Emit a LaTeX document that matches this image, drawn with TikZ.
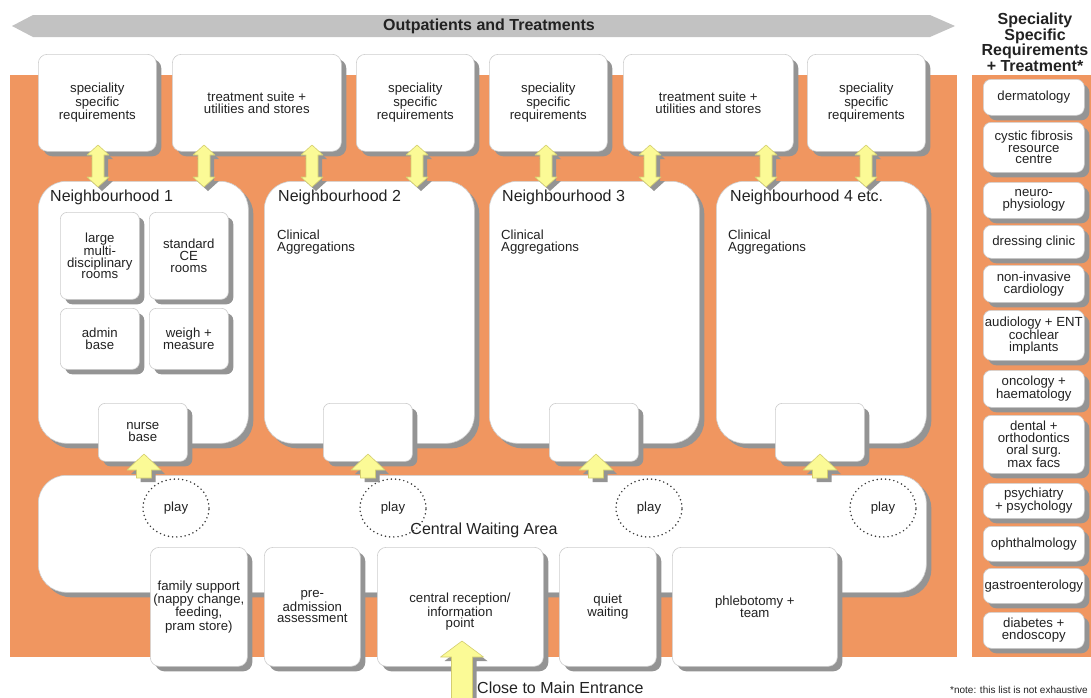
\documentclass[tikz,border=0pt]{standalone}
\usepackage{fontspec}
\setmainfont{Liberation Sans}
\usetikzlibrary{shadows,shapes.geometric}

\definecolor{bgorange}{RGB}{240,150,96}
\definecolor{ylw}{RGB}{251,250,150}
\definecolor{ylwline}{RGB}{212,206,112}
\definecolor{shadowgray}{RGB}{148,148,148}
\definecolor{bannergray}{RGB}{194,194,194}
\definecolor{boxline}{RGB}{205,205,205}
\definecolor{ink}{RGB}{34,34,34}

\tikzset{
  room/.style={draw=boxline, line width=0.6pt, fill=white, rounded corners=9pt,
    drop shadow={shadow xshift=5pt, shadow yshift=-5pt, fill=shadowgray, opacity=1},
    align=center, text=ink, font=\fontsize{13.2}{11.8}\selectfont,
    inner sep=0pt, anchor=north west},
  zone/.style={room, rounded corners=28pt},
  listroom/.style={room, rounded corners=8pt, minimum width=101pt},
  title/.style={text=ink, font=\fontsize{16}{18}\selectfont, inner sep=0pt, anchor=west},
  note/.style={text=ink, font=\fontsize{13.2}{11.8}\selectfont, inner sep=0pt, align=left, anchor=west},
  playring/.style={ellipse, draw=ink!90, line width=1.7pt, line cap=round,
    dash pattern=on 0pt off 4.2pt, minimum width=66pt, minimum height=58pt,
    inner sep=0pt, text=ink, font=\fontsize{13.2}{14}\selectfont},
  arrowbody/.style={fill=ylw, draw=ylwline, line width=0.6pt, line join=round},
  arrowshade/.style={fill=shadowgray},
}

% vertical double-headed link: centre x, upper tip y, lower tip y
\newcommand{\DblArrow}[3]{%
  \fill[arrowshade, xshift=4pt, yshift=-4pt]
    (#1,#2) -- (#1+11,#2+10) -- (#1+6,#2+10) -- (#1+6,#3-10) -- (#1+11,#3-10)
    -- (#1,#3) -- (#1-11,#3-10) -- (#1-6,#3-10) -- (#1-6,#2+10) -- (#1-11,#2+10) -- cycle;
  \filldraw[arrowbody]
    (#1,#2) -- (#1+11,#2+10) -- (#1+6,#2+10) -- (#1+6,#3-10) -- (#1+11,#3-10)
    -- (#1,#3) -- (#1-11,#3-10) -- (#1-6,#3-10) -- (#1-6,#2+10) -- (#1-11,#2+10) -- cycle;
}
% upward block arrow: x, tip y, head base y, tail y, half head width, half shaft width
\newcommand{\UpArrow}[6]{%
  \fill[arrowshade, xshift=4pt, yshift=-4pt]
    (#1,#2) -- (#1+#5,#3) -- (#1+#6,#3) -- (#1+#6,#4) -- (#1-#6,#4) -- (#1-#6,#3) -- (#1-#5,#3) -- cycle;
  \filldraw[arrowbody]
    (#1,#2) -- (#1+#5,#3) -- (#1+#6,#3) -- (#1+#6,#4) -- (#1-#6,#4) -- (#1-#6,#3) -- (#1-#5,#3) -- cycle;
}

\begin{document}
\begin{tikzpicture}[x=1pt, y=-1pt]
\useasboundingbox (0,0) rectangle (1091,697);
\clip (0,0) rectangle (1091,697);

% backgrounds
\fill[bgorange] (10,75) rectangle (957,657);
\fill[bgorange] (972,75) rectangle (1091,657);

% banner
\fill[bannergray] (12,26) -- (33,15) -- (930,15) -- (955,26) -- (930,37) -- (33,37) -- cycle;
\node[font=\bfseries\fontsize{16}{18}\selectfont, text=ink, inner sep=0pt] (banner) at (489,26) {Outpatients and Treatments};

% top row of shared rooms
\node[room, minimum width=118pt, minimum height=97pt] (t1) at (38,54) {speciality\\specific\\requirements};
\node[room, minimum width=169pt, minimum height=97pt] (t2) at (172,54) {treatment suite +\\utilities and stores};
\node[room, minimum width=118pt, minimum height=97pt] (t3) at (356,54) {speciality\\specific\\requirements};
\node[room, minimum width=118pt, minimum height=97pt] (t4) at (489,54) {speciality\\specific\\requirements};
\node[room, minimum width=170pt, minimum height=97pt] (t5) at (623,54) {treatment suite +\\utilities and stores};
\node[room, minimum width=118pt, minimum height=97pt] (t6) at (807,54) {speciality\\specific\\requirements};

% neighbourhoods
\node[zone, minimum width=210pt, minimum height=262pt] (n1) at (38,181) {};
\node[zone, minimum width=210pt, minimum height=262pt] (n2) at (264,181) {};
\node[zone, minimum width=210pt, minimum height=262pt] (n3) at (489,181) {};
\node[zone, minimum width=210pt, minimum height=262pt] (n4) at (716,181) {};

\node[title] (n1t) at (50,197) {Neighbourhood 1};
\node[title] (n2t) at (278,197) {Neighbourhood 2};
\node[title] (n3t) at (502,197) {Neighbourhood 3};
\node[title] (n4t) at (730,197) {Neighbourhood 4 etc.};

\node[note] (c2) at (277,242) {Clinical\\Aggregations};
\node[note] (c3) at (501,242) {Clinical\\Aggregations};
\node[note] (c4) at (728,242) {Clinical\\Aggregations};

% rooms of neighbourhood 1
\node[room, rounded corners=7pt, minimum width=79pt, minimum height=87pt] (r1) at (60,212) {large\\multi-\\disciplinary\\rooms};
\node[room, rounded corners=7pt, minimum width=79pt, minimum height=87pt] (r2) at (149,212) {standard\\CE\\rooms};
\node[room, rounded corners=7pt, minimum width=79pt, minimum height=61pt] (r3) at (60,308) {admin\\base};
\node[room, rounded corners=7pt, minimum width=79pt, minimum height=61pt] (r4) at (149,308) {weigh +\\measure};

% nurse bases
\node[room, rounded corners=7pt, minimum width=89pt, minimum height=58pt] (b1) at (98,403) {nurse\\base};
\node[room, rounded corners=7pt, minimum width=89pt, minimum height=58pt] (b2) at (323,403) {};
\node[room, rounded corners=7pt, minimum width=89pt, minimum height=58pt] (b3) at (549,403) {};
\node[room, rounded corners=7pt, minimum width=89pt, minimum height=58pt] (b4) at (775,403) {};

% central waiting area
\node[zone, minimum width=888pt, minimum height=117pt] (wait) at (38,475) {};
\node[title, anchor=center] (waitt) at (484,530) {Central Waiting Area};

\node[playring] (p1) at (176,508) {play};
\node[playring] (p2) at (393,508) {play};
\node[playring] (p3) at (649,508) {play};
\node[playring] (p4) at (883,508) {play};

% rooms off the waiting area
\node[room, minimum width=97pt, minimum height=119pt] (f1) at (150,547) {family support\\(nappy change,\\feeding,\\pram store)};
\node[room, minimum width=96pt, minimum height=119pt] (f2) at (264,547) {pre-\\admission\\assessment};
\node[room, minimum width=166pt, minimum height=119pt] (f3) at (377,547) {};
\node[note, align=center, anchor=center] (f3t) at (460,612) {central reception/\\information\\point};
\node[room, minimum width=97pt, minimum height=119pt] (f4) at (559,547) {quiet\\waiting};
\node[room, minimum width=165pt, minimum height=119pt] (f5) at (672,547) {phlebotomy +\\team};

% links between top rooms and neighbourhoods
\DblArrow{98}{145}{187}
\DblArrow{204}{145}{187}
\DblArrow{312}{145}{187}
\DblArrow{417}{145}{187}
\DblArrow{546}{145}{187}
\DblArrow{650}{145}{187}
\DblArrow{766}{145}{187}
\DblArrow{866}{145}{187}

% waiting area to nurse bases
\UpArrow{144}{454}{470}{478}{17}{7.5}
\UpArrow{368}{454}{470}{478}{17}{7.5}
\UpArrow{596}{454}{470}{478}{17}{7.5}
\UpArrow{820}{454}{470}{478}{17}{7.5}

% entrance
\UpArrow{462}{641}{657}{705}{21.5}{10.5}
\node[title] (entr) at (477,688) {Close to Main Entrance};

% speciality list
\node[font=\bfseries\fontsize{16}{14.3}\selectfont, text=ink, align=center, inner sep=0pt] (listt) at (1035,42)
  {Speciality\\Specific\\Requirements\\+ Treatment*};
\node[listroom, minimum height=36pt] (s1) at (983,79) {dermatology};
\node[listroom, minimum height=50pt] (s2) at (983,122) {cystic fibrosis\\resource\\centre};
\node[listroom, minimum height=36pt] (s3) at (983,182) {neuro-\\physiology};
\node[listroom, minimum height=33pt] (s4) at (983,225) {dressing clinic};
\node[listroom, minimum height=37pt] (s5) at (983,265) {non-invasive\\cardiology};
\node[listroom, minimum height=50pt] (s6) at (983,310) {audiology + ENT\\cochlear\\implants};
\node[listroom, minimum height=37pt] (s7) at (983,370) {oncology +\\haematology};
\node[listroom, minimum height=58pt] (s8) at (983,415) {dental +\\orthodontics\\oral surg.\\max facs};
\node[listroom, minimum height=35pt] (s9) at (983,483) {psychiatry\\+ psychology};
\node[listroom, minimum height=35pt] (s10) at (983,526) {ophthalmology};
\node[listroom, minimum height=35pt] (s11) at (983,568) {gastroenterology};
\node[listroom, minimum height=36pt] (s12) at (983,612) {diabetes +\\endoscopy};

\node[text=ink, font=\fontsize{10}{12}\selectfont, inner sep=0pt, anchor=east] (fn) at (1088,690) {*note: this list is not exhaustive};
\end{tikzpicture}
\end{document}
